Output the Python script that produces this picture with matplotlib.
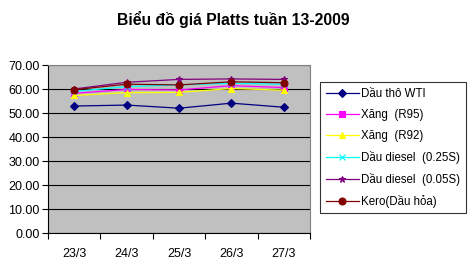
import matplotlib.pyplot as plt
import numpy as np

plt.rcParams['font.family'] = ['Liberation Sans', 'DejaVu Sans']

# data
days = ['23/3', '24/3', '25/3', '26/3', '27/3']
wti = [52.9, 53.3, 52.0, 54.1, 52.4]
r95 = [58.2, 59.8, 59.6, 61.4, 60.6]
r92 = [57.3, 58.5, 58.6, 60.2, 59.5]
diesel_025 = [59.0, 61.0, 61.7, 62.4, 62.0]
diesel_005 = [60.0, 62.8, 64.0, 64.2, 64.0]
kero = [59.7, 62.0, 61.7, 63.0, 62.6]

names = ['Dầu thô WTI', 'Xăng  (R95)', 'Xăng  (R92)',
         'Dầu diesel  (0.25S)', 'Dầu diesel  (0.05S)', 'Kero(Dầu hỏa)']
series = [wti, r95, r92, diesel_025, diesel_005, kero]
colors = ['#000080', '#FF00FF', '#FFFF00', '#00FFFF', '#800080', '#800000']
markers = ['D', 's', '^', 'x', '*', 'o']
msizes = [4, 4, 5, 4, 5, 5]

fig = plt.figure(figsize=(4.72, 2.68), dpi=100)
ax = fig.add_axes([48/472, 1 - 233/268, (310 - 48)/472, (233 - 65)/268])
ax.set_facecolor('#C0C0C0')

x = np.arange(1, len(days) + 1)
lines = []
for vals, c, m, ms, n in zip(series, colors, markers, msizes, names):
    ln, = ax.plot(x, vals, color=c, marker=m, markersize=ms, linewidth=0.9,
                  markeredgewidth=0.8, label=n, zorder=3)
    lines.append(ln)

ax.set_ylim(0, 70)
ax.set_xlim(0.5, len(days) + 0.5)
ax.set_yticks(np.arange(0, 71, 10))
ax.set_yticklabels(['%.2f' % v for v in np.arange(0, 71, 10)], fontsize=9)
ax.yaxis.grid(True, color='black', linewidth=0.8)
ax.set_axisbelow(True)

ax.set_xticks(np.arange(0.5, len(days) + 1, 1))
ax.set_xticklabels([])
ax.set_xticks(x, minor=True)
ax.set_xticklabels(days, minor=True, fontsize=9)
ax.tick_params(axis='x', which='minor', length=0, pad=11)
ax.tick_params(axis='x', which='major', length=4, direction='out', width=0.8)
ax.tick_params(axis='y', length=4, direction='out', width=0.8, pad=2)

ax.spines['left'].set_color('black')
ax.spines['bottom'].set_color('black')
ax.spines['top'].set_color('#808080')
ax.spines['right'].set_color('#808080')
for s in ax.spines.values():
    s.set_linewidth(0.8)

fig.text(233/472, 1 - 20/268, 'Biểu đồ giá Platts tuần 13-2009',
         ha='center', va='center', fontsize=11.3, fontweight='bold')

leg = fig.legend(handles=lines, loc='upper left',
                 bbox_to_anchor=(320/472, 1 - 82/268), fontsize=8.3,
                 frameon=True, fancybox=False, edgecolor='black',
                 handlelength=2.9, handletextpad=0.15, labelspacing=0.78,
                 borderpad=0.5, borderaxespad=0)
leg.get_frame().set_linewidth(0.8)

fig.savefig('out.png', dpi=100, facecolor='white')
